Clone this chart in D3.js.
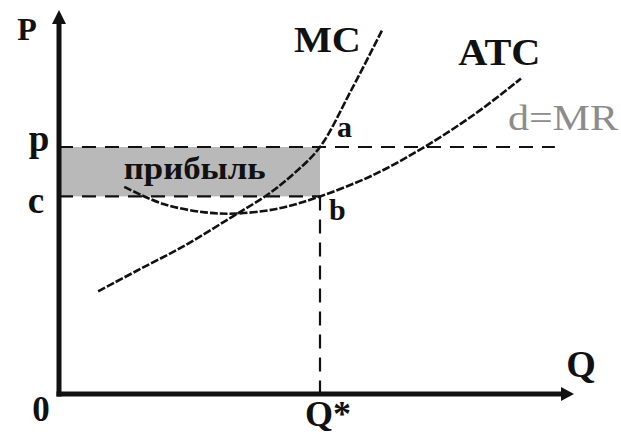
<!DOCTYPE html>
<html>
<head>
<meta charset="utf-8">
<script src="https://cdn.jsdelivr.net/npm/d3@7"></script>
<style>
  html, body { margin: 0; padding: 0; background: #fff; }
  svg text { font-family: "Liberation Serif", "DejaVu Serif", serif; }
</style>
</head>
<body>
<svg id="chart" width="621" height="436"></svg>
<script>
// Quantity / price levels of the firm's short-run equilibrium
const qStar = 5;
const priceLevel = 6.5;   // p = MR
const costLevel = 5.2;    // c = ATC at Q*
const yTickValues = [priceLevel, costLevel];
const yTickLabels = ["p", "c"];
const xTickValues = [0, qStar];
const xTickLabels = ["0", "Q*"];

// Marginal cost curve
const mcQ = [0.75, 1.5, 2.4, 3.3, 4.0, 4.5, 5.0, 5.6, 6.2];
const mcP = [2.7, 3.25, 3.9, 4.65, 5.25, 5.8, 6.5, 8.0, 9.6];

// Average total cost curve
const atcQ = [1.25, 2.0, 2.8, 3.4, 4.2, 5.0, 6.0, 7.0, 8.0, 8.85];
const atcP = [5.45, 5.0, 4.78, 4.75, 4.88, 5.2, 5.75, 6.5, 7.4, 8.3];

// Demand = marginal revenue line extent
const mrQ = [0, 9.5];

const svg = d3.select("#chart");
const x = d3.scaleLinear().domain([0, 10]).range([59, 581]);
const y = d3.scaleLinear().domain([0, 10]).range([394, 14]);

const ink = "#111";

// Profit rectangle
svg.append("rect")
  .attr("x", x(0))
  .attr("y", y(priceLevel))
  .attr("width", x(qStar) - x(0))
  .attr("height", y(costLevel) - y(priceLevel))
  .attr("fill", "#b9b9b9");

// Dashed guide lines
const dashed = (x1, y1, x2, y2, dash, w) => svg.append("line")
  .attr("x1", x1).attr("y1", y1).attr("x2", x2).attr("y2", y2)
  .attr("stroke", ink).attr("stroke-width", w)
  .attr("stroke-dasharray", dash);

dashed(x(mrQ[0]), y(priceLevel), x(mrQ[1]), y(priceLevel), "14,9", 2.2);
dashed(x(0), y(costLevel), x(qStar), y(costLevel), "14,9", 2.2);
dashed(x(qStar), y(costLevel), x(qStar), y(0), "14,9", 2.2);

// Cost curves
const line = d3.line().curve(d3.curveCatmullRom.alpha(0.5));
const mcPts = mcQ.map((q, i) => [x(q), y(mcP[i])]);
const atcPts = atcQ.map((q, i) => [x(q), y(atcP[i])]);

svg.append("path").attr("d", line(mcPts))
  .attr("fill", "none").attr("stroke", ink).attr("stroke-width", 2.6)
  .attr("stroke-dasharray", "8,2");
svg.append("path").attr("d", line(atcPts))
  .attr("fill", "none").attr("stroke", ink).attr("stroke-width", 2.6)
  .attr("stroke-dasharray", "8,2");

// Axes with arrowheads
svg.append("line")
  .attr("x1", x(0)).attr("y1", y(0) + 2.5).attr("x2", x(0)).attr("y2", y(10) + 6)
  .attr("stroke", ink).attr("stroke-width", 5);
svg.append("line")
  .attr("x1", x(0) - 2.5).attr("y1", y(0)).attr("x2", x(10) - 14).attr("y2", y(0))
  .attr("stroke", ink).attr("stroke-width", 5);
svg.append("path")
  .attr("d", `M${x(0) - 7},${y(10) + 10} L${x(0)},${y(10) - 4} L${x(0) + 7},${y(10) + 10} Z`)
  .attr("fill", ink);
svg.append("path")
  .attr("d", `M${x(10) - 20},${y(0) - 7} L${x(10) - 7},${y(0)} L${x(10) - 20},${y(0) + 7} Z`)
  .attr("fill", ink);

// Labels
const label = (tx, ty, str, size, opts = {}) => {
  const t = svg.append("text")
    .attr("x", tx).attr("y", ty)
    .attr("font-size", size)
    .attr("font-weight", opts.weight || "bold")
    .attr("fill", opts.fill || ink)
    .attr("text-anchor", opts.anchor || "middle")
    .text(str);
  if (opts.len) t.attr("textLength", opts.len).attr("lengthAdjust", "spacingAndGlyphs");
  return t;
};

label(x(0) - 32, y(10) + 26, "P", 32);
label(x(10), y(0) - 17, "Q", 38);

label(x(0) - 20, y(yTickValues[0]) + 4, yTickLabels[0], 37);
label(x(0) - 23, y(yTickValues[1]) + 17, yTickLabels[1], 37);
label(x(xTickValues[0]) - 18, y(0) + 27, xTickLabels[0], 35);
label(x(xTickValues[1]) - 15, y(0) + 32, xTickLabels[1], 36, { anchor: "start" });

label(x(1.24), y((priceLevel + costLevel) / 2) + 7, "прибыль", 31, { anchor: "start", len: 142 });
label(x(qStar) + 17, y(priceLevel) - 10, "a", 30, { anchor: "start" });
label(x(qStar) + 9, y(costLevel) + 24, "b", 30, { anchor: "start" });
label(x(4.5), y(9.0), "MC", 36, { anchor: "start", len: 67 });
label(x(7.65), y(8.65), "ATC", 37, { anchor: "start", len: 82 });
label(x(8.6), y(6.95), "d=MR", 36, { anchor: "start", len: 110, weight: "normal", fill: "#8c8c8c" });
</script>
</body>
</html>
